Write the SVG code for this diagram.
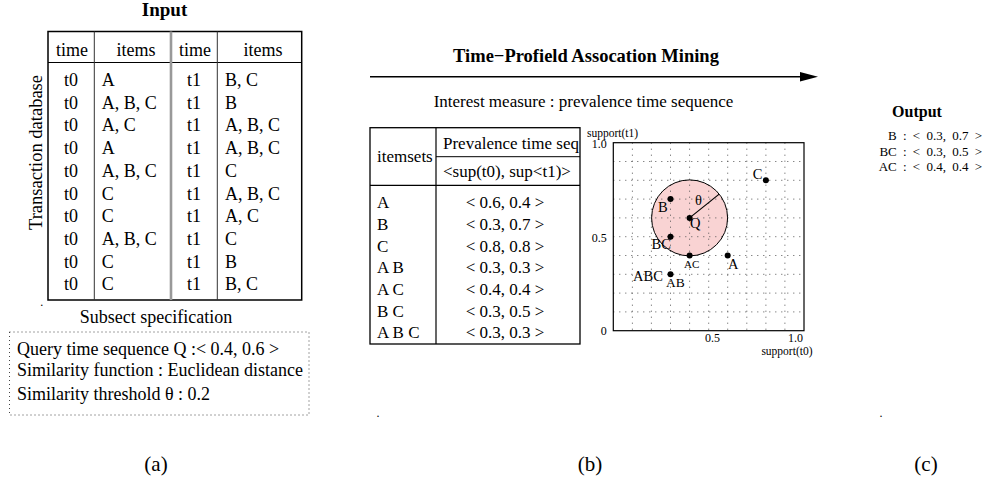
<svg xmlns="http://www.w3.org/2000/svg" width="984" height="485" viewBox="0 0 984 485">
<style>
text{font-family:"Liberation Serif","Times New Roman",serif;fill:#000}
.t18{font-size:18px}
.t17{font-size:17px}
.b{font-weight:bold}
.m{text-anchor:middle}
.e{text-anchor:end}
.grid{stroke:#555;stroke-width:1;stroke-dasharray:1 5;fill:none}
.lbl{font-size:14.5px}
.tick{font-size:12px}
.out{font-size:13px;word-spacing:3px;text-anchor:end}
.cap{font-size:21px;text-anchor:middle}
</style>
<rect width="984" height="485" fill="#fff"/>

<!-- Panel (a) -->
<g id="input-title"><text class="b m" x="164.5" y="16" font-size="19">Input</text></g>
<g id="transaction-table">
<rect x="48" y="31.5" width="253.7" height="268.5" fill="none" stroke="#000" stroke-width="1.5"/>
<line x1="48" y1="62.5" x2="301.7" y2="62.5" stroke="#000" stroke-width="1.2"/>
<line x1="94.3" y1="31.5" x2="94.3" y2="300" stroke="#333" stroke-width="1"/>
<line x1="217.3" y1="31.5" x2="217.3" y2="300" stroke="#333" stroke-width="1"/>
<line x1="171" y1="31.5" x2="171" y2="300" stroke="#999" stroke-width="2.6"/>
<g class="t18">
<text class="m" x="72" y="55.5">time</text>
<text class="m" x="136" y="55.5">items</text>
<text class="m" x="195" y="55.5">time</text>
<text class="m" x="263" y="55.5">items</text>
</g>
<g class="t18">
<text class="m" x="71" y="86">t0</text><text x="101.7" y="86">A</text><text class="m" x="194" y="86">t1</text><text x="225" y="86">B, C</text>
<text class="m" x="71" y="108.7">t0</text><text x="101.7" y="108.7">A, B, C</text><text class="m" x="194" y="108.7">t1</text><text x="225" y="108.7">B</text>
<text class="m" x="71" y="131.4">t0</text><text x="101.7" y="131.4">A, C</text><text class="m" x="194" y="131.4">t1</text><text x="225" y="131.4">A, B, C</text>
<text class="m" x="71" y="154.1">t0</text><text x="101.7" y="154.1">A</text><text class="m" x="194" y="154.1">t1</text><text x="225" y="154.1">A, B, C</text>
<text class="m" x="71" y="176.8">t0</text><text x="101.7" y="176.8">A, B, C</text><text class="m" x="194" y="176.8">t1</text><text x="225" y="176.8">C</text>
<text class="m" x="71" y="199.5">t0</text><text x="101.7" y="199.5">C</text><text class="m" x="194" y="199.5">t1</text><text x="225" y="199.5">A, B, C</text>
<text class="m" x="71" y="222.2">t0</text><text x="101.7" y="222.2">C</text><text class="m" x="194" y="222.2">t1</text><text x="225" y="222.2">A, C</text>
<text class="m" x="71" y="244.9">t0</text><text x="101.7" y="244.9">A, B, C</text><text class="m" x="194" y="244.9">t1</text><text x="225" y="244.9">C</text>
<text class="m" x="71" y="267.6">t0</text><text x="101.7" y="267.6">C</text><text class="m" x="194" y="267.6">t1</text><text x="225" y="267.6">B</text>
<text class="m" x="71" y="290.3">t0</text><text x="101.7" y="290.3">C</text><text class="m" x="194" y="290.3">t1</text><text x="225" y="290.3">B, C</text>
</g>
</g>
<g id="transaction-label"><text class="m" font-size="18.5" transform="translate(41.5,152.5) rotate(-90)">Transaction database</text></g>
<text x="40.3" y="306" font-size="12">.</text>
<g id="subset-spec">
<text class="t18 m" x="156" y="323">Subsect specification</text>
<rect x="9.5" y="332" width="299.5" height="83" fill="none" stroke="#444" stroke-width="1" stroke-dasharray="1 3"/>
<text class="t18" x="17" y="354.5">Query time sequence Q :&lt; 0.4, 0.6 &gt;</text>
<text class="t18" x="17" y="376">Similarity function : Euclidean distance</text>
<text class="t18" x="17" y="400">Similarity threshold θ : 0.2</text>
</g>

<!-- Panel (b) -->
<g id="mining-title"><text class="b m" x="586" y="61.5" font-size="18.5">Time−Profield Assocation Mining</text></g>
<g id="connectors">
<line x1="370" y1="76.7" x2="802" y2="76.7" stroke="#000" stroke-width="1.5"/>
<polygon points="800,72 818,76.7 800,81.4" fill="#000"/>
</g>
<g id="interest-measure"><text class="t17 m" x="583.5" y="106.5">Interest measure : prevalence time sequence</text></g>
<g id="prevalence-table">
<rect x="370" y="127.7" width="210" height="216.3" fill="none" stroke="#000" stroke-width="1.3"/>
<line x1="436" y1="127.7" x2="436" y2="344" stroke="#000" stroke-width="1.2"/>
<line x1="436" y1="156.7" x2="580" y2="156.7" stroke="#000" stroke-width="1"/>
<line x1="370" y1="185.3" x2="580" y2="185.3" stroke="#000" stroke-width="1.2"/>
<g class="t17">
<text x="377" y="162">itemsets</text>
<text x="443" y="149">Prevalence time seq</text>
<text x="443" y="177">&lt;sup(t0), sup&lt;t1)&gt;</text>
<text x="377" y="208">A</text><text class="m" x="505" y="208">&lt; 0.6, 0.4 &gt;</text>
<text x="377" y="229.5">B</text><text class="m" x="505" y="229.5">&lt; 0.3, 0.7 &gt;</text>
<text x="377" y="251.5">C</text><text class="m" x="505" y="251.5">&lt; 0.8, 0.8 &gt;</text>
<text x="377" y="273">A B</text><text class="m" x="505" y="273">&lt; 0.3, 0.3 &gt;</text>
<text x="377" y="295">A C</text><text class="m" x="505" y="295">&lt; 0.4, 0.4 &gt;</text>
<text x="377" y="316.5">B C</text><text class="m" x="505" y="316.5">&lt; 0.3, 0.5 &gt;</text>
<text x="377" y="338">A B C</text><text class="m" x="505" y="338">&lt; 0.3, 0.3 &gt;</text>
</g>
</g>

<g id="support-chart">
<circle cx="689.6" cy="217.9" r="38" fill="#f9d3d3" stroke="none"/>
<path class="grid" d="M632.4 142.7V330.7M651.4 142.7V330.7M670.5 142.7V330.7M689.6 142.7V330.7M708.7 142.7V330.7M727.7 142.7V330.7M746.8 142.7V330.7M765.9 142.7V330.7M784.9 142.7V330.7M613.3 311.9H804M613.3 293.1H804M613.3 274.3H804M613.3 255.5H804M613.3 236.7H804M613.3 217.9H804M613.3 199.1H804M613.3 180.3H804M613.3 161.5H804"/>
<circle cx="689.6" cy="217.9" r="38" fill="none" stroke="#000" stroke-width="1"/>
<rect x="613.3" y="142.7" width="190.7" height="188" fill="none" stroke="#000" stroke-width="1.2"/>
<line x1="689.6" y1="217.9" x2="719.2" y2="194.1" stroke="#000" stroke-width="1.2"/>
<g fill="#000">
<circle cx="670.5" cy="199.1" r="3"/>
<circle cx="765.9" cy="180.3" r="3"/>
<circle cx="689.6" cy="217.9" r="3"/>
<circle cx="670.5" cy="236.7" r="3"/>
<circle cx="689.6" cy="255.5" r="3"/>
<circle cx="727.7" cy="255.5" r="3"/>
<circle cx="670.5" cy="274.3" r="3"/>
</g>
<g class="lbl">
<text class="e" x="762.5" y="179">C</text>
<text x="658" y="211.5">B</text>
<text x="690" y="227.5">Q</text>
<text x="695" y="205">θ</text>
<text x="651.5" y="249">BC</text>
<text x="684" y="268" font-size="11">AC</text>
<text x="728" y="269">A</text>
<text x="633" y="281">ABC</text>
<text x="666" y="286.5" font-size="13.5">AB</text>
</g>
<g class="tick">
<text class="e" x="606.7" y="148">1.0</text>
<text class="e" x="606.7" y="241.5">0.5</text>
<text class="e" x="606.7" y="335">0</text>
<text class="m" x="712.5" y="341.5">0.5</text>
<text class="m" x="795.5" y="341.5">1.0</text>
</g>
<text x="587" y="136.5" font-size="11.5">support(t1)</text>
<text class="e" x="812.5" y="355" font-size="11.5">support(t0)</text>
</g>
<text x="376.5" y="417" font-size="12">.</text>

<!-- Panel (c) -->
<g id="output">
<text class="b m" x="917" y="116.5" font-size="16">Output</text>
<text class="out" x="982" y="139.5">B : &lt; 0.3, 0.7 &gt;</text>
<text class="out" x="982" y="155.5">BC : &lt; 0.3, 0.5 &gt;</text>
<text class="out" x="982" y="171">AC : &lt; 0.4, 0.4 &gt;</text>
</g>
<text x="879.5" y="417" font-size="12">.</text>

<g id="captions">
<text class="cap" x="156" y="471">(a)</text>
<text class="cap" x="590" y="471">(b)</text>
<text class="cap" x="926" y="471">(c)</text>
</g>
</svg>
